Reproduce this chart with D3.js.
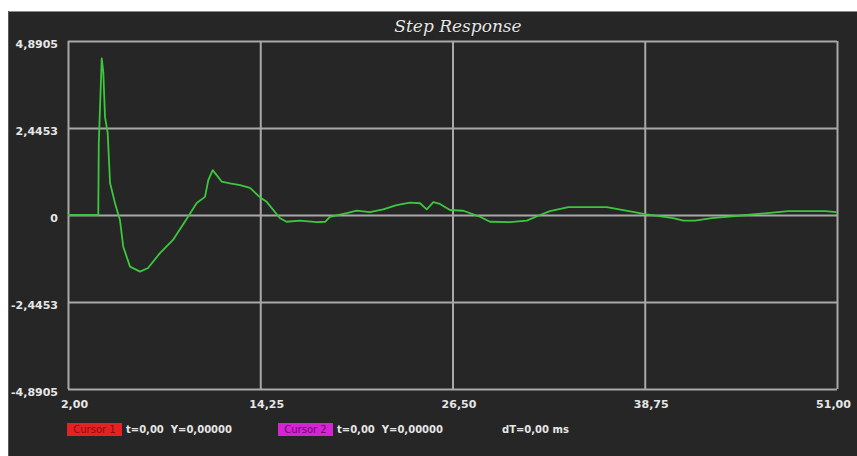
<!DOCTYPE html>
<html><head><meta charset="utf-8">
<script src="https://cdn.jsdelivr.net/npm/d3@7"></script>
<style>
html,body{margin:0;padding:0;background:#fff;}
svg{display:block;}
</style></head>
<body>
<svg id="chart" width="857" height="456"></svg>
<script>
// ---- data ----
const title = "Step Response";
const timeValues = [2.00,3.93,3.96,4.15,4.25,4.36,4.53,4.68,4.99,5.31,5.52,5.95,6.59,7.10,7.86,8.69,9.65,10.20,10.73,10.94,11.22,11.47,11.79,12.32,12.96,13.60,14.23,14.66,15.51,15.93,16.78,17.85,18.38,18.69,19.76,20.40,21.24,22.09,22.94,23.79,24.43,24.86,25.28,25.70,26.34,27.19,28.25,28.89,30.16,31.23,32.08,32.71,33.88,36.33,37.38,38.87,40.57,41.21,41.95,43.02,45.25,46.73,47.90,50.24,50.98];
const responseValues = [0,0,2.00,4.40,4.00,2.75,2.30,0.90,0.34,-0.14,-0.89,-1.45,-1.59,-1.49,-1.07,-0.70,-0.05,0.34,0.51,0.98,1.26,1.12,0.94,0.89,0.84,0.76,0.50,0.37,-0.09,-0.19,-0.16,-0.20,-0.19,-0.05,0.05,0.12,0.08,0.16,0.28,0.35,0.33,0.16,0.36,0.31,0.14,0.12,-0.05,-0.19,-0.20,-0.16,0,0.11,0.22,0.22,0.14,0.02,-0.09,-0.16,-0.16,-0.09,0,0.06,0.11,0.11,0.08];
const xTickValues = [2, 14.25, 26.5, 38.75, 51];
const xTickLabels = ["2,00","14,25","26,50","38,75","51,00"];
const yTickValues = [4.8905, 2.4453, 0, -2.4453, -4.8905];
const yTickLabels = ["4,8905","2,4453","0","-2,4453","-4,8905"];
const cursorNames = ["Cursor 1","Cursor 2"];
const cursorReadouts = ["t=0,00  Y=0,00000","t=0,00  Y=0,00000"];
const deltaReadout = "dT=0,00 ms";

// ---- layout ----
const svg = d3.select("#chart");
const plot = {left:68, top:41, right:837, bottom:389};
const x = d3.scaleLinear().domain([2,51]).range([plot.left, plot.right]);
const y = d3.scaleLinear().domain([-4.8905, 4.8905]).range([plot.bottom, plot.top]);

// panel
svg.append("rect").attr("x",0).attr("y",0).attr("width",857).attr("height",456).attr("fill","#fff");
svg.append("rect").attr("x",8).attr("y",11).attr("width",849).attr("height",445).attr("fill","#262626");
svg.append("line").attr("x1",8).attr("x2",857).attr("y1",11.5).attr("y2",11.5).attr("stroke","#8a8a8a").attr("stroke-width",1);
svg.append("line").attr("x1",8.5).attr("x2",8.5).attr("y1",11).attr("y2",456).attr("stroke","#5a5a5a").attr("stroke-width",1);

// title
svg.append("text").attr("x",458).attr("y",32).attr("text-anchor","middle")
  .attr("font-family","DejaVu Serif").attr("font-style","italic").attr("font-size",17)
  .attr("fill","#e8e8e8").attr("stroke","#111").attr("stroke-width",0.6).attr("paint-order","stroke")
  .text(title);

// grid via axes
const gridColor = "#a8a8a8";
const xGrid = svg.append("g").attr("transform",`translate(0,${plot.bottom})`)
  .call(d3.axisBottom(x).tickValues(xTickValues).tickSize(-(plot.bottom-plot.top)).tickFormat(""));
const yGrid = svg.append("g").attr("transform",`translate(${plot.left},0)`)
  .call(d3.axisLeft(y).tickValues(yTickValues).tickSize(-(plot.right-plot.left)).tickFormat(""));
[xGrid,yGrid].forEach(g=>{
  g.select(".domain").remove();
  g.selectAll(".tick line").attr("stroke",gridColor).attr("stroke-width",2);
});

// tick labels
const lblFont = {family:"DejaVu Sans", size:11};
const yLab = svg.append("g").attr("transform",`translate(${plot.left},0)`)
  .call(d3.axisLeft(y).tickValues(yTickValues).tickSize(0).tickPadding(10)
    .tickFormat((d,i)=>yTickLabels[i]));
yLab.select(".domain").remove();
yLab.selectAll(".tick text").attr("font-family",lblFont.family).attr("font-weight","bold")
  .attr("font-size",lblFont.size).attr("fill","#e6e6e6").attr("dy","0.62em");

const xLab = svg.append("g").attr("transform",`translate(0,${plot.bottom})`)
  .call(d3.axisBottom(x).tickValues(xTickValues).tickSize(0).tickPadding(11)
    .tickFormat((d,i)=>xTickLabels[i]));
xLab.select(".domain").remove();
xLab.selectAll(".tick text").attr("font-family",lblFont.family).attr("font-weight","bold")
  .attr("font-size",lblFont.size).attr("fill","#e6e6e6")
  .attr("dx",(d,i)=> i===xTickValues.length-1 ? -4 : 6);

// response line
const pts = timeValues.map((t,i)=>[t,responseValues[i]]);
svg.append("path").datum(pts)
  .attr("fill","none").attr("stroke","#3cc83c").attr("stroke-width",1.8)
  .attr("stroke-linejoin","round")
  .attr("d", d3.line().x(d=>x(d[0])).y(d=>y(d[1])));

// cursor legend
const legendY = 423;
const cursorBoxes = [{x:67, fill:"#e42222", tc:"#8a0d0d"},{x:278, fill:"#d424d4", tc:"#6a0a6a"}];
cursorNames.forEach((name,i)=>{
  const b = cursorBoxes[i];
  svg.append("rect").attr("x",b.x).attr("y",legendY).attr("width",55).attr("height",13).attr("fill",b.fill);
  svg.append("text").attr("x",b.x+27.5).attr("y",legendY+10).attr("text-anchor","middle")
    .attr("font-family","DejaVu Sans").attr("font-size",10).attr("fill",b.tc).text(name);
  svg.append("text").attr("x",b.x+59).attr("y",legendY+10)
    .attr("font-family","DejaVu Sans").attr("font-weight","bold").attr("font-size",10)
    .attr("fill","#e6e6e6").attr("xml:space","preserve").style("white-space","pre").text(cursorReadouts[i]);
});
svg.append("text").attr("x",502).attr("y",legendY+10)
  .attr("font-family","DejaVu Sans").attr("font-weight","bold").attr("font-size",10)
  .attr("fill","#e6e6e6").text(deltaReadout);
</script>
</body></html>
